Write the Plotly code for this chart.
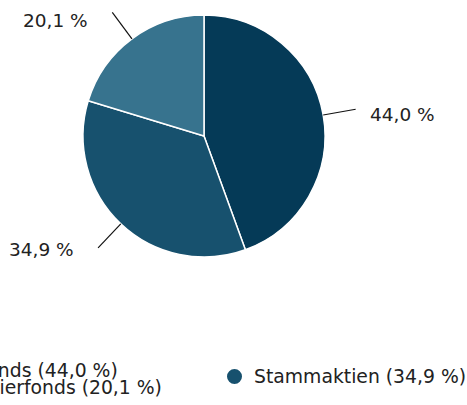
import math
import plotly.graph_objects as go

# ---- data ----
labels = ["Aktienfonds", "Stammaktien", "Wertpapierfonds"]
values = [44.0, 34.9, 20.1]
colors = ["#053a57", "#17516e", "#37738e"]

# ---- layout constants (window pixels) ----
W, H = 467, 405
CX, CY, R = 204, 136, 121
FONT = "DejaVu Sans"
TXT = "#222222"


def fmt(v):
    return f"{v:.1f}".replace(".", ",") + " %"


def px(x):
    return x / W


def py(y):
    return 1 - y / H


fig = go.Figure(
    go.Pie(
        labels=labels,
        values=values,
        sort=False,
        direction="clockwise",
        rotation=0,
        marker=dict(colors=colors, line=dict(color="white", width=1.5)),
        textinfo="none",
        hoverinfo="label+percent",
        showlegend=False,
        domain=dict(x=[px(CX - R), px(CX + R)], y=[py(CY + R), py(CY - R)]),
    )
)

shapes = []
annotations = []

# outside labels with leader lines, positioned from slice mid-angles
total = sum(values)
cum = 0.0
for v in values:
    mid = (cum + v / 2) / total * 2 * math.pi
    cum += v
    s, c = math.sin(mid), math.cos(mid)
    x0, y0 = CX + R * s, CY - R * c
    x1, y1 = CX + (R + 33) * s, CY - (R + 33) * c
    shapes.append(dict(type="line", xref="paper", yref="paper",
                       x0=px(x0), y0=py(y0), x1=px(x1), y1=py(y1),
                       line=dict(color="#111111", width=1.2)))
    if s >= 0:
        tx, anchor = x1 + 12, "left"
    else:
        tx, anchor = x1 - 22, "right"
    annotations.append(dict(text=fmt(v), xref="paper", yref="paper",
                            x=px(tx), y=py(y1 + 5 + 4 * c), xanchor=anchor, yanchor="middle",
                            showarrow=False, font=dict(family=FONT, size=18.5, color=TXT)))

# legend (two columns, first column partly outside the canvas)
LEG_X0 = -82      # text start of first column
LEG_X1 = 252      # text start of second column
legend_slots = [  # (text x, text center y) per item in data order
    (LEG_X0, 370.5),
    (LEG_X1, 376.5),
    (LEG_X0, 387.5),
]
for lab, v, col, (tx, ty) in zip(labels, values, colors, legend_slots):
    annotations.append(dict(text=f"{lab} ({fmt(v)})", xref="paper", yref="paper",
                            x=px(tx), y=py(ty), xanchor="left", yanchor="middle",
                            showarrow=False, font=dict(family=FONT, size=18.8, color=TXT)))
    shapes.append(dict(type="circle", xref="paper", yref="paper",
                       x0=px(tx - 25), x1=px(tx - 10), y0=py(ty - 7.5), y1=py(ty + 7.5),
                       fillcolor=col, line=dict(width=0)))

fig.update_layout(
    width=W, height=H,
    margin=dict(l=0, r=0, t=0, b=0),
    paper_bgcolor="white",
    plot_bgcolor="white",
    shapes=shapes,
    annotations=annotations,
    font=dict(family=FONT, color=TXT),
)

fig.write_html("out.html",
               config={"displayModeBar": False},
               post_script="document.body.style.margin='0';document.body.style.overflow='hidden';")
